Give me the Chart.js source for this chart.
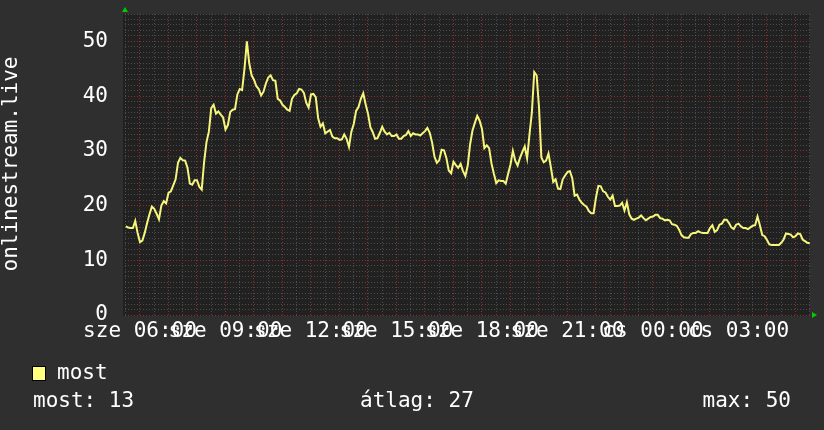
<!DOCTYPE html>
<html><head><meta charset="utf-8">
<script src="https://cdn.jsdelivr.net/npm/chart.js@4/dist/chart.umd.min.js"></script>
<style>html,body{margin:0;padding:0;background:#2f2f2f;}canvas{display:block}</style>
</head><body>
<canvas id="c" width="824" height="430"></canvas>
<script>
const seriesName = 'most';
const axisTitle = 'onlinestream.live';
const startHour = 5.5;      // sze 05:30
const stepMinutes = 5;
const values = [
16.2,16.0,15.9,15.9,17.2,15.0,13.3,13.6,15.0,16.8,
18.4,19.8,19.4,18.5,17.5,20.0,20.8,20.4,22.3,22.6,
23.7,24.8,27.8,28.7,28.3,28.2,26.9,24.0,23.8,24.6,
24.6,23.4,22.9,28.0,31.6,33.5,37.8,38.4,36.8,37.2,
36.6,36.1,33.9,34.7,37.1,37.5,37.6,40.3,41.3,41.1,
45.0,50.0,46.0,43.8,43.0,41.8,41.3,40.1,40.8,42.3,
43.4,43.8,42.9,42.8,39.5,39.2,38.4,38.0,37.5,37.3,
39.5,40.2,40.5,41.3,41.2,40.6,38.8,37.9,40.3,40.4,
39.8,36.0,34.4,35.0,33.2,33.5,33.8,32.6,32.3,32.3,
32.0,32.1,33.0,32.2,30.7,33.5,34.9,37.3,38.0,39.5,
40.5,38.5,36.8,34.3,33.4,32.2,32.3,33.3,34.4,33.5,
33.0,33.3,32.7,32.7,33.0,32.2,32.2,32.7,32.9,33.6,
32.7,33.2,33.0,33.0,32.8,33.2,33.6,34.2,33.3,31.5,
28.9,27.8,28.3,30.2,30.1,28.7,26.4,25.9,28.0,27.4,
26.9,27.6,26.3,25.4,27.3,31.2,33.7,35.1,36.4,35.5,
34.0,30.5,31.0,30.5,27.7,25.8,24.1,24.6,24.5,24.5,
24.0,25.8,27.5,30.0,28.2,27.3,28.7,29.8,30.8,28.6,
33.0,37.0,44.4,43.8,38.0,28.8,27.9,28.2,29.5,27.0,
24.3,24.8,23.1,23.0,24.8,25.5,26.1,26.3,25.0,21.8,
22.0,21.1,20.5,20.1,19.8,19.0,18.6,18.6,21.5,23.6,
23.5,22.6,22.4,21.6,21.1,21.8,19.9,19.9,20.0,20.5,
19.1,20.6,18.4,17.6,17.4,17.6,17.8,18.2,17.7,17.3,
17.6,17.9,18.0,18.3,18.3,17.7,17.6,17.3,17.4,17.3,
16.6,16.5,16.3,15.6,14.6,14.2,14.1,14.1,14.8,15.0,
15.0,15.3,15.1,15.0,15.0,15.0,15.9,16.4,15.2,15.5,
16.5,16.7,17.4,17.4,16.8,16.0,15.7,16.5,16.7,16.2,
15.9,15.9,15.7,16.0,16.3,16.4,18.0,16.4,14.6,14.4,
13.7,12.9,12.8,12.8,12.8,12.8,13.2,13.8,14.9,14.8,
14.7,14.2,14.4,14.9,14.8,13.8,13.5,13.2,13.1
];
const xLabelHours = [6, 9, 12, 15, 18, 21, 24, 27];
const xLabelTexts = ['sze 06:00', 'sze 09:00', 'sze 12:00', 'sze 15:00', 'sze 18:00', 'sze 21:00', 'cs 00:00', 'cs 03:00'];
const yLabelValues = [0, 10, 20, 30, 40, 50];
const statTexts = ['most: 13', 'átlag: 27', 'max: 50'];

const xMin = 5.474, xMax = 29.509, yMin = 0, yMax = 55;
const FONT = '"DejaVu Sans Mono", monospace';
const points = values.map((v, i) => ({ x: startHour + i * stepMinutes / 60, y: v }));

const xGridTicks = [];
for (let h = 5.5; h <= 29.5 + 1e-9; h += 0.5) xGridTicks.push(Math.round(h * 2) / 2);
const yGridTicks = [];
for (let v = 0; v <= 55; v++) yGridTicks.push(v);

const MAJOR = 'rgba(150,50,50,0.95)';
const MINOR = 'rgba(120,120,120,0.5)';

function noPad(s) { s.paddingTop = 0; s.paddingBottom = 0; s.paddingLeft = 0; s.paddingRight = 0; }

const decor = {
  id: 'decor',
  beforeDraw(chart) {
    const { ctx, chartArea: a } = chart;
    ctx.save();
    ctx.fillStyle = '#2f2f2f';
    ctx.fillRect(0, 0, chart.width, chart.height);
    ctx.fillStyle = '#212121';
    ctx.fillRect(a.left - 2, a.top, a.right - a.left + 2, a.bottom - a.top + 1);
    ctx.restore();
  },
  afterDraw(chart) {
    const { ctx, chartArea: a } = chart;
    ctx.save();
    // axis arrows
    ctx.fillStyle = '#00cc00';
    ctx.beginPath();
    ctx.moveTo(a.left - 3, a.top - 2); ctx.lineTo(a.left + 3, a.top - 2); ctx.lineTo(a.left, a.top - 7); ctx.closePath(); ctx.fill();
    ctx.beginPath();
    ctx.moveTo(a.right + 2, a.bottom - 3); ctx.lineTo(a.right + 2, a.bottom + 3); ctx.lineTo(a.right + 7, a.bottom); ctx.closePath(); ctx.fill();
    // vertical axis title
    ctx.fillStyle = '#ffffff';
    ctx.font = '21px ' + FONT;
    ctx.textBaseline = 'middle';
    ctx.textAlign = 'center';
    ctx.save();
    ctx.translate(12, 164);
    ctx.rotate(-Math.PI / 2);
    ctx.fillText(axisTitle, 0, 0);
    ctx.restore();
    // legend
    ctx.fillStyle = '#ffff80';
    ctx.fillRect(32, 366, 14, 15);
    ctx.strokeStyle = '#000000';
    ctx.lineWidth = 1;
    ctx.strokeRect(32.5, 366.5, 13, 14);
    ctx.fillStyle = '#ffffff';
    ctx.textAlign = 'left';
    ctx.fillText(seriesName, 57, 374);
    ctx.fillText(statTexts[0], 33, 402);
    ctx.fillText(statTexts[1], 360, 402);
    ctx.textAlign = 'right';
    ctx.fillText(statTexts[2], 791, 402);
    ctx.restore();
  }
};

new Chart(document.getElementById('c'), {
  type: 'line',
  data: {
    datasets: [{
      label: seriesName,
      data: points,
      borderColor: '#f6f67c',
      borderWidth: 2,
      pointRadius: 0,
      tension: 0,
      fill: false
    }]
  },
  options: {
    responsive: false,
    animation: false,
    devicePixelRatio: 1,
    layout: { padding: { left: 0, right: 14, top: 14, bottom: 85 } },
    plugins: { legend: { display: false }, tooltip: { enabled: false } },
    scales: {
      x: {
        type: 'linear',
        min: xMin, max: xMax,
        bounds: 'data',
        afterFit: s => { s.height = 30; noPad(s); },
        afterBuildTicks: s => { s.ticks = xGridTicks.map(v => ({ value: v })); },
        border: { display: false, dash: [1, 2] },
        grid: {
          drawTicks: false,
          color: c => (c.tick && Math.abs(c.tick.value - Math.round(c.tick.value)) < 1e-6) ? MAJOR : MINOR,
          lineWidth: 1
        },
        ticks: {
          autoSkip: false, maxRotation: 0, minRotation: 0, padding: 4,
          color: '#ffffff', font: { family: FONT, size: 21 },
          callback: v => { const k = xLabelHours.indexOf(v); return k >= 0 ? xLabelTexts[k] : ''; }
        }
      },
      y: {
        type: 'linear',
        min: yMin, max: yMax,
        bounds: 'data',
        afterFit: s => { s.width = 125; noPad(s); },
        afterBuildTicks: s => { s.ticks = yGridTicks.map(v => ({ value: v })); },
        border: { display: false, dash: [1, 2] },
        grid: {
          drawTicks: false,
          color: c => (c.tick && c.tick.value % 10 === 0) ? MAJOR : MINOR,
          lineWidth: 1
        },
        ticks: {
          autoSkip: false, padding: 17,
          color: '#ffffff', font: { family: FONT, size: 21 },
          callback: v => yLabelValues.includes(v) ? String(v) : ''
        }
      }
    }
  },
  plugins: [decor]
});
</script>
</body></html>
